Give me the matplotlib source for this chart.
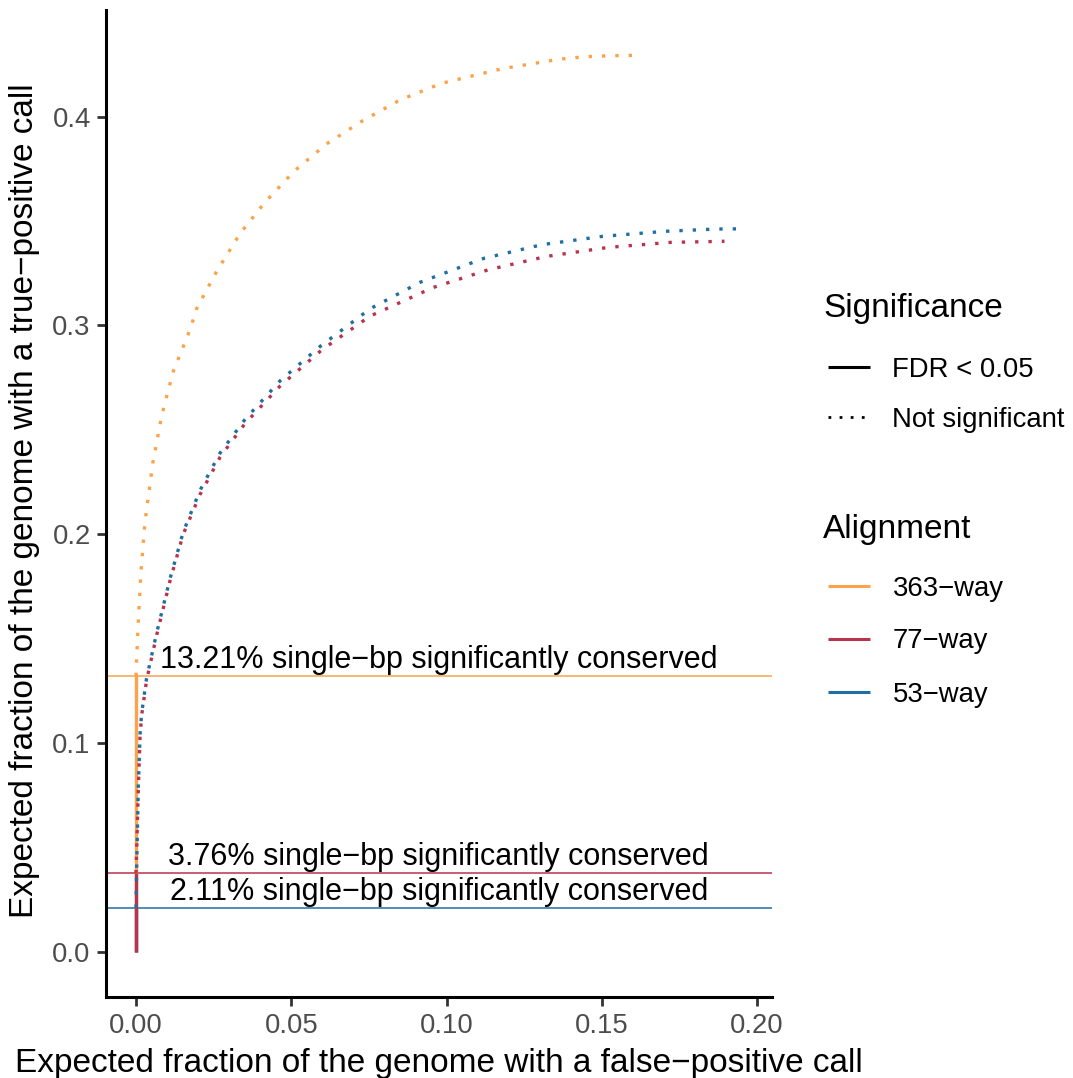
import matplotlib
matplotlib.use("Agg")
import matplotlib.pyplot as plt
from matplotlib.lines import Line2D

plt.rcParams["font.family"] = ["Liberation Sans", "DejaVu Sans"]

# ---- data ----
alignments = ["363-way", "77-way", "53-way"]
colors = ["#FBA24A", "#B8344D", "#1F6FA3"]
thresholds = [0.1321, 0.0376, 0.0211]            # significantly conserved fraction
labels = ["13.21% single\u2212bp significantly conserved",
          "3.76% single\u2212bp significantly conserved",
          "2.11% single\u2212bp significantly conserved"]

# significant part (FDR < 0.05): runs up the y axis at x = 0
sig_x = {"363-way": [0.0, 0.0], "77-way": [0.0, 0.0], "53-way": [0.0, 0.0]}
sig_y = {"363-way": [0.0, 0.1332], "77-way": [0.0, 0.0376], "53-way": [0.0, 0.0211]}

# not-significant part of each curve
ns_x_363 = [0.0, 0.0002, 0.0007, 0.0016, 0.0029, 0.0054, 0.0083, 0.0120, 0.0174,
            0.0195, 0.0260, 0.0335, 0.0415, 0.0510, 0.0614, 0.0729, 0.0850, 0.0984,
            0.1180, 0.1366, 0.1446, 0.1527, 0.1610, 0.1625]
ns_y_363 = [0.1321, 0.140, 0.157, 0.182, 0.206, 0.234, 0.257, 0.278, 0.298,
            0.308, 0.326, 0.344, 0.359, 0.374, 0.387, 0.398, 0.408, 0.416,
            0.423, 0.4276, 0.4287, 0.4292, 0.4294, 0.4294]
ns_x_77 = [0.0, 0.00075, 0.0013, 0.0018, 0.0034, 0.0067, 0.0110, 0.0152, 0.0206,
           0.0271, 0.0351, 0.0464, 0.0600, 0.0754, 0.0957, 0.1135, 0.1323, 0.1521,
           0.1722, 0.1889, 0.1895]
ns_y_77 = [0.0376, 0.078, 0.103, 0.113, 0.130, 0.152, 0.178, 0.200, 0.219,
           0.237, 0.253, 0.271, 0.2885, 0.3045, 0.3182, 0.3267, 0.3331, 0.3374,
           0.3398, 0.3403, 0.3404]
ns_x_53 = [0.0, 0.0002, 0.00075, 0.0013, 0.0018, 0.0034, 0.0067, 0.0110, 0.0152,
           0.0206, 0.0271, 0.0351, 0.0464, 0.0593, 0.0754, 0.0915, 0.1119, 0.1307,
           0.1503, 0.1704, 0.1870, 0.1951]
ns_y_53 = [0.0211, 0.040, 0.079, 0.104, 0.114, 0.131, 0.153, 0.179, 0.201,
           0.221, 0.239, 0.255, 0.2735, 0.290, 0.308, 0.3207, 0.3321, 0.3387,
           0.3427, 0.3451, 0.3462, 0.3463]
ns_x = {"363-way": ns_x_363, "77-way": ns_x_77, "53-way": ns_x_53}
ns_y = {"363-way": ns_y_363, "77-way": ns_y_77, "53-way": ns_y_53}

xticks = [0.0, 0.05, 0.10, 0.15, 0.20]
yticks = [0.0, 0.1, 0.2, 0.3, 0.4]

# ---- style ----
W, H = 1073, 1078
LW = 2.4          # curve width (pt at dpi 100)
SMALL = 19.8      # tick + legend label size
TICK_GREY = "#4D4D4D"
col = dict(zip(alignments, colors))

fig = plt.figure(figsize=(W / 100, H / 100), dpi=100)
ax = fig.add_axes([106 / W, 1 - 996.7 / H, (771.7 - 106) / W, (996.7 - 10) / H])

# horizontal threshold lines + labels
for a, t, lab in zip(alignments, thresholds, labels):
    ax.axhline(t, color=col[a], lw=1.1, zorder=1)
    ax.annotate(lab, (0.0975, t), xytext=(0, 5.8), textcoords="offset points",
                ha="center", va="baseline", fontsize=22, color="black", zorder=4)

# significant segments (solid)
for a in ["363-way", "53-way", "77-way"]:
    ax.plot(sig_x[a], sig_y[a], color=col[a], lw=LW, solid_capstyle="butt", zorder=2)
# not significant (dotted)
for a in ["363-way", "77-way", "53-way"]:
    ax.plot(ns_x[a], ns_y[a], color=col[a], lw=LW, ls=(0, (1, 3)),
            dash_capstyle="butt", zorder=3)

ax.set_xlim(-0.00966, 0.2047)
ax.set_ylim(-0.0215, 0.4511)
ax.set_xticks(xticks)
ax.set_xticklabels([f"{v:.2f}" for v in xticks])
ax.set_yticks(yticks)
ax.set_yticklabels([f"{v:.1f}" for v in yticks])
for s in ("top", "right"):
    ax.spines[s].set_visible(False)
for s in ("left", "bottom"):
    ax.spines[s].set_linewidth(2.2)
    ax.spines[s].set_color("black")
    ax.spines[s].set_capstyle("projecting")
ax.tick_params(axis="both", length=6.5, width=2.0, color="#333333",
               labelcolor=TICK_GREY, labelsize=SMALL)
ax.tick_params(axis="x", pad=5.0)
ax.tick_params(axis="y", pad=4.5)

fig.text(438.5 / W, 1 - 1071.7 / H,
         "Expected fraction of the genome with a false\u2212positive call",
         ha="center", va="baseline", fontsize=24)
fig.text(9 / W, 1 - 501 / H,
         "Expected fraction of the genome with a true\u2212positive call",
         ha="left", va="center", rotation=90, fontsize=24)

# ---- legends (drawn by hand, ggplot-style) ----
def key(y_px, **kw):
    fig.add_artist(Line2D([827.5 / W, 869.5 / W], [1 - y_px / H] * 2,
                          transform=fig.transFigure, **kw))

fig.text(823 / W, 1 - 316.7 / H, "Significance", fontsize=24, va="baseline")
sig_names = ["FDR < 0.05", "Not significant"]
sig_styles = ["-", (0, (1, 3))]
for i, (name, ls) in enumerate(zip(sig_names, sig_styles)):
    yy = 366.7 + i * 50.5
    key(yy, color="black", lw=2.2 if ls == "-" else 2.0, ls=ls,
        solid_capstyle="butt", dash_capstyle="butt")
    fig.text(892.5 / W, 1 - yy / H, name, fontsize=SMALL, va="center_baseline")

fig.text(823 / W, 1 - 538 / H, "Alignment", fontsize=24, va="baseline")
for i, a in enumerate(alignments):
    yy = 585.5 + i * 53
    key(yy, color=col[a], lw=2.2, solid_capstyle="butt")
    fig.text(892.5 / W, 1 - yy / H, a.replace("-", "\u2212"), fontsize=SMALL,
             va="center_baseline")

fig.savefig("out.png", dpi=100, facecolor="white")
